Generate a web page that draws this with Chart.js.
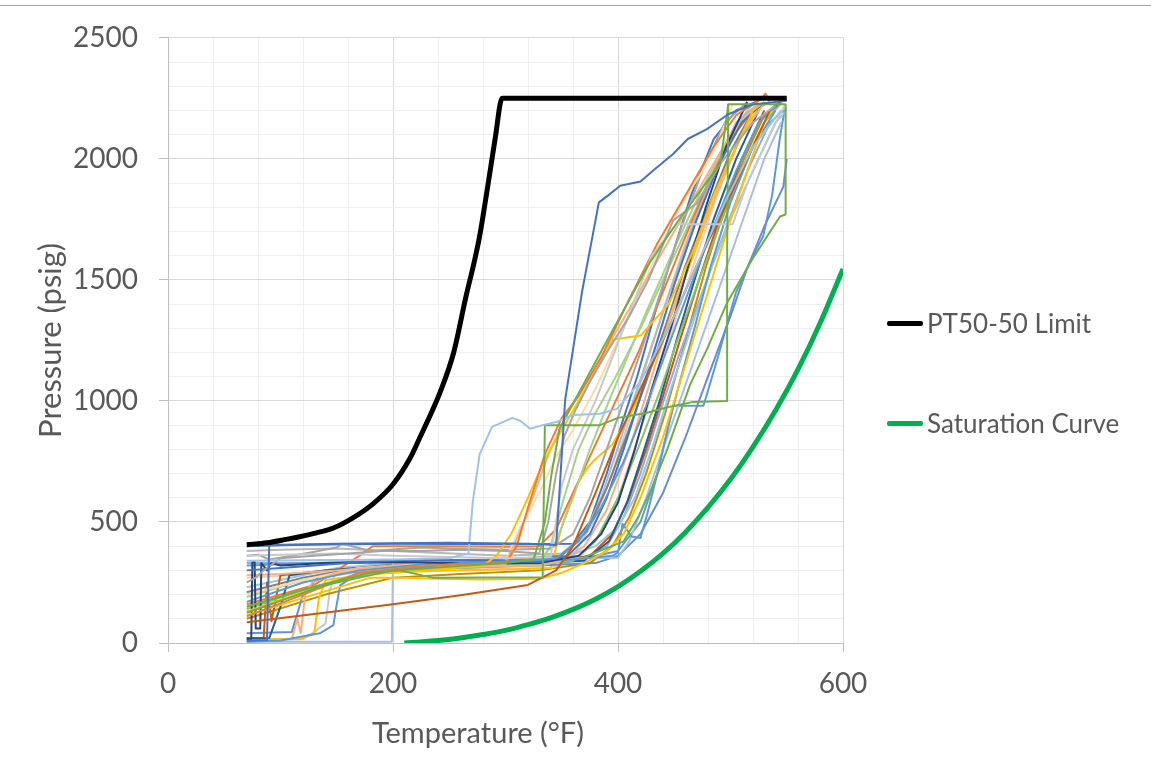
<!DOCTYPE html>
<html>
<head>
<meta charset="utf-8">
<script src="https://cdn.jsdelivr.net/npm/chart.js@4.4.1/dist/chart.umd.min.js"></script>
<style>
  html, body { margin: 0; padding: 0; background: #fff; }
  #wrap { position: relative; width: 1151px; height: 772px; font-family: Lato, "Open Sans", sans-serif; color: #595959; }
  #topRule { position: absolute; left: 0; top: 5px; width: 1151px; height: 1px; background: #a6a6a6; }
  #xTitle { position: absolute; left: 0; top: 715px; width: 956px; text-align: center; font-size: 29px; line-height: 34px; }
  .legendItem { position: absolute; left: 887px; height: 30px; display: flex; align-items: center; font-size: 26px; white-space: nowrap; }
  .legendItem span.swatch { display: inline-block; width: 36px; height: 5px; border-radius: 2px; margin-right: 4px; }
</style>
</head>
<body>
<div id="wrap">
  <div id="topRule"></div>
  <canvas id="ptChart" width="1151" height="772"></canvas>
  <div id="xTitle">Temperature (°F)</div>
  <div class="legendItem" style="top:308px"><span class="swatch" style="background:#000"></span>PT50-50 Limit</div>
  <div class="legendItem" style="top:408px"><span class="swatch" style="background:#00b050"></span>Saturation Curve</div>
</div>
<script>
// axis ticks that carry a label
const xLabelTicks = [0, 200, 400, 600];
const yLabelTicks = [0, 500, 1000, 1500, 2000, 2500];

// [temperature F, pressure psig]
const ptLimit = [[70,406],[88,414],[105,428],[117,439],[132,455],[147,475],[164,516],[182,574],[200,656],[215,762],[224,850],[234,950],[242,1037],[254,1201],[265,1434],[272,1570],[277,1680],[285,1910],[291,2090],[297,2250],[550,2250]];
const saturation = [[210,0],[220,3],[240,10],[260,21],[280,35],[300,52],[320,76],[340,104],[360,139],[380,181],[400,233],[420,296],[440,370],[460,458],[480,560],[500,676],[520,810],[540,960],[560,1130],[580,1325],[600,1545]];

// plant heatup / cooldown records
const run01 = [[70,10],[88,12],[90,405],[150,410],[250,414],[320,410],[345,405],[349,700],[353,1004],[368,1450],[383,1820],[391,1848],[402,1889],[420,1906],[431,1951],[449,2020],[462,2082],[479,2123],[498,2184],[520,2225],[550,2240]];
const run02 = [[70,340],[120,342],[200,345],[250,350],[262,365],[267,369],[271,586],[277,779],[288,893],[306,930],[313,918],[322,885],[333,900],[346,914],[360,942],[384,947],[399,967],[420,1080],[445,1300],[470,1560],[495,1820],[520,2050],[545,2200]];
const run03 = [[70,150],[120,220],[180,290],[206,300],[235,270],[333,272],[335,900],[384,900],[400,930],[425,950],[445,975],[467,996],[497,1000],[497,1600],[498,2225]];
const run04 = [[70,125],[140,240],[200,300],[300,330],[325,345],[335,500],[341,700],[348,885],[388,1230],[428,1570],[452,1734],[475,1880],[491,1980],[498,2225],[549,2225],[549,1770],[544,1762],[520,1590],[497,1406],[479,1213],[464,1066],[444,803],[430,640],[418,520],[405,420],[370,355]];
const run05 = [[70,250],[78,270],[85,300],[100,350],[130,360],[160,370],[190,380],[225,380],[260,385],[300,380],[330,370],[338,500],[345,700],[352,850],[362,960],[375,1080],[390,1200],[410,1350],[427,1500],[449,1746],[470,1816],[491,1980],[520,2150],[540,2220]];
const run06 = [[70,360],[100,365],[150,370],[200,360],[300,350],[340,355],[350,650],[360,800],[380,1000],[405,1300],[430,1600],[452,1730],[502,1730],[515,1900],[535,2100],[548,2220]];
const run07 = [[70,110],[120,200],[170,290],[230,320],[300,330],[310,400],[320,560],[335,780],[350,930],[365,1020],[385,1180],[410,1420],[435,1650],[460,1850],[485,2050],[505,2180],[528,2250],[531,2270],[535,2240]];
const run08 = [[70,86],[130,120],[200,160],[260,197],[320,240],[345,300],[360,400],[380,620],[400,850],[420,1050],[445,1300],[470,1560],[495,1800],[515,2000],[535,2200],[545,2240]];
const run09 = [[70,115],[130,200],[180,270],[210,270],[240,265],[280,262],[330,265],[350,290],[370,330],[390,380],[405,450],[420,600],[440,850],[460,1150],[480,1450],[500,1750],[515,1950],[530,2150],[540,2230]];
const run10 = [[70,130],[120,210],[170,280],[230,300],[280,320],[292,360],[305,450],[320,600],[335,760],[350,880],[370,1040],[396,1254],[420,1270],[445,1400],[465,1600],[485,1850],[505,2050],[520,2200],[530,2235]];
const run11 = [[70,5],[100,10],[135,40],[147,74],[150,160],[153,238],[165,275],[200,300],[260,330],[320,340],[345,350],[365,420],[385,560],[405,750],[425,980],[445,1230],[465,1480],[485,1720],[505,1950],[525,2150],[545,2235]];
const run12 = [[70,300],[100,310],[160,330],[220,345],[280,340],[330,335],[355,360],[375,450],[390,600],[405,800],[420,1020],[435,1250],[450,1480],[470,1750],[490,1980],[510,2150],[530,2235]];
const run13 = [[70,15],[74,15],[75,335],[77,335],[78,60],[82,60],[83,330],[88,300],[92,330],[100,320],[140,330],[200,335],[260,330],[330,330],[365,360],[385,450],[400,580],[415,800],[430,1050],[447,1300],[462,1550],[478,1800],[496,2050],[515,2235]];
const run14 = [[70,170],[120,250],[170,300],[240,330],[320,340],[360,345],[395,360],[400,373],[404,492],[412,440],[420,434],[426,533],[435,700],[445,900],[455,1080],[468,1300],[482,1550],[500,1820],[520,2050],[540,2200]];
const run15 = [[70,5],[199,5],[200,332],[240,335],[300,330],[337,350],[380,350],[400,352],[410,420],[425,600],[440,800],[455,1000],[470,1200],[485,1400],[500,1600],[515,1800],[530,2000],[545,2150]];
const run16 = [[70,280],[100,285],[150,300],[200,320],[260,320],[300,325],[310,430],[318,520],[328,650],[340,800],[355,950],[375,1100],[400,1300],[425,1500],[450,1700],[475,1900],[500,2100],[525,2230]];
const run17 = [[70,10],[110,15],[115,100],[118,40],[122,200],[128,250],[150,290],[200,310],[260,315],[330,320],[350,340],[370,400],[390,550],[410,800],[430,1100],[450,1400],[470,1650],[490,1880],[510,2100],[530,2230]];
const run18 = [[70,200],[120,260],[170,310],[240,330],[300,335],[310,450],[330,620],[345,770],[360,880],[380,1050],[405,1300],[430,1560],[455,1800],[475,1950],[488,2060],[502,2225]];
const run19 = [[70,360],[80,365],[90,345],[110,360],[128,375],[150,395],[155,410],[180,380],[225,395],[250,390],[300,385],[340,390],[360,450],[375,600],[390,800],[405,1000],[420,1200],[438,1450],[455,1700],[475,1950],[495,2150],[515,2235]];
const run20 = [[70,210],[120,270],[170,310],[230,340],[300,345],[350,360],[372,460],[390,640],[408,860],[425,1080],[443,1320],[460,1560],[480,1800],[500,2030],[520,2200],[535,2235]];
const run21 = [[70,190],[120,260],[170,310],[230,325],[290,330],[330,340],[345,420],[360,600],[375,800],[392,1000],[410,1200],[430,1420],[452,1650],[475,1880],[500,2100],[525,2230]];
const run22 = [[70,140],[120,220],[175,290],[250,310],[320,320],[360,340],[380,420],[400,600],[420,830],[438,1050],[455,1280],[472,1500],[490,1720],[510,1960],[530,2150],[545,2230]];
const run23 = [[70,20],[90,20],[100,150],[108,280],[140,300],[200,320],[260,325],[330,330],[370,340],[392,420],[408,580],[422,780],[437,1000],[452,1250],[468,1500],[485,1750],[505,2000],[525,2200]];
const run24 = [[70,160],[130,240],[170,360],[182,400],[240,400],[300,398],[330,400],[345,470],[360,620],[378,800],[398,1000],[418,1200],[440,1450],[460,1680],[480,1900],[500,2080],[520,2200]];
const run25 = [[70,20],[85,20],[88,250],[92,90],[100,280],[140,300],[200,320],[270,330],[340,335],[375,360],[395,450],[410,600],[425,800],[440,1020],[455,1250],[472,1500],[490,1750],[510,2000],[530,2200]];
const run26 = [[70,230],[100,260],[150,310],[200,330],[260,335],[320,340],[350,350],[380,400],[400,480],[415,600],[430,800],[447,1050],[465,1300],[483,1550],[500,1750],[520,1950],[540,2150],[550,2200]];
const run27 = [[70,40],[110,45],[120,200],[135,280],[180,300],[250,310],[330,320],[380,330],[400,360],[420,450],[440,620],[460,850],[480,1100],[500,1350],[515,1550],[530,1720],[547,1885],[550,2000]];
const run28 = [[70,320],[130,330],[200,340],[300,345],[370,350],[400,380],[420,500],[435,700],[449,980],[476,980],[490,1200],[505,1450],[520,1600],[529,1680],[537,1850],[544,2090],[548,2200]];
const run29 = [[70,15],[120,18],[130,40],[134,180],[140,260],[190,290],[250,300],[310,305],[340,310],[350,480],[362,640],[372,720],[380,760],[395,820],[415,980],[435,1200],[455,1450],[475,1700],[495,1950],[515,2150],[530,2230]];
const run30 = [[70,380],[100,385],[150,390],[200,380],[300,360],[350,370],[370,450],[385,600],[398,780],[412,980],[428,1200],[446,1450],[465,1700],[485,1950],[505,2150],[525,2230]];
const run31 = [[70,150],[130,230],[190,300],[250,320],[330,330],[340,400],[352,600],[365,800],[380,950],[398,1100],[420,1300],[445,1550],[470,1800],[495,2050],[515,2200]];
const run32 = [[70,270],[110,280],[160,300],[220,310],[280,305],[340,310],[365,350],[385,450],[400,600],[418,850],[435,1100],[452,1350],[470,1600],[488,1850],[508,2080],[528,2230]];
const run33 = [[70,330],[150,330],[250,330],[330,335],[370,345],[390,400],[405,520],[420,700],[437,950],[455,1200],[475,1450],[495,1700],[515,1950],[535,2150],[550,2210]];
const run34 = [[70,100],[140,200],[200,270],[260,285],[330,300],[375,330],[395,400],[410,520],[425,700],[442,950],[460,1250],[478,1550],[495,1800],[512,2000],[530,2180],[545,2235]];
const run35 = [[70,15],[117,15],[128,40],[140,80],[144,220],[148,280],[200,310],[280,320],[340,330],[360,360],[378,500],[395,700],[410,920],[425,1150],[442,1400],[460,1650],[480,1900],[500,2100],[520,2230]];
const run36 = [[70,400],[110,405],[200,410],[300,408],[360,410],[375,500],[390,700],[403,900],[417,1100],[432,1350],[448,1600],[465,1850],[485,2080],[505,2200],[525,2240]];

const runs = [run01, run02, run03, run04, run05, run06, run07, run08, run09, run10, run11, run12,
              run13, run14, run15, run16, run17, run18, run19, run20, run21, run22, run23, run24,
              run25, run26, run27, run28, run29, run30, run31, run32, run33, run34, run35, run36];
const runColors = ['#4472c4', '#9dc3e6', '#70ad47', '#70ad47', '#a5a5a5', '#c9c9c9', '#ed7d31', '#c55a11', '#ffc000', '#ffc000', '#5b9bd5', '#4472c4',
                   '#264478', '#5b9bd5', '#a9bee4', '#f4b183', '#f4b183', '#ffd9a6', '#a5a5a5', '#7f7f7f', '#a9d18e', '#8cc168', '#255e91', '#ed7d31',
                   '#c55a11', '#9dc3e6', '#698ed0', '#5b9bd5', '#ffc000', '#b7b7b7', '#a9d18e', '#f8cbad', '#8faadc', '#bf9000', '#c9c9c9', '#4472c4'];

function toXY(pairs) {
    return pairs.map(p => ({ x: p[0], y: p[1] }));
}

const datasets = [
    { label: 'PT50-50 Limit', data: toXY(ptLimit), borderColor: '#000000', borderWidth: 5, cubicInterpolationMode: 'monotone' },
    { label: 'Saturation Curve', data: toXY(saturation), borderColor: '#00b050', borderWidth: 5, cubicInterpolationMode: 'monotone' }
];
runs.forEach((r, i) => {
    datasets.push({ label: 'Run ' + (i + 1), data: toXY(r), borderColor: runColors[i], borderWidth: 2 });
});
datasets.forEach(d => {
    d.showLine = true;
    d.pointRadius = 0;
    d.pointHoverRadius = 0;
    d.fill = false;
    d.borderJoinStyle = 'round';
});

const tickFont = { family: 'Lato, "Open Sans", sans-serif', size: 28 };

new Chart(document.getElementById('ptChart').getContext('2d'), {
    type: 'scatter',
    data: { datasets: datasets },
    options: {
        responsive: false,
        animation: false,
        layout: { padding: { left: 0, right: 308, top: 33, bottom: 0 } },
        plugins: { legend: { display: false }, tooltip: { enabled: false } },
        scales: {
            x: {
                type: 'linear',
                min: 0, max: 600,
                afterFit: s => { s.height = 129; },
                border: { color: '#bfbfbf', width: 1 },
                grid: {
                    color: c => xLabelTicks.includes(c.tick.value) ? '#d9d9d9' : '#f0f0f0',
                    tickColor: c => xLabelTicks.includes(c.tick.value) ? '#bfbfbf' : 'rgba(0,0,0,0)',
                    tickLength: 9,
                    lineWidth: 1
                },
                ticks: {
                    stepSize: 40,
                    autoSkip: false,
                    maxRotation: 0,
                    padding: 15,
                    color: '#595959',
                    font: tickFont,
                    callback: v => xLabelTicks.includes(v) ? String(v) : ''
                }
            },
            y: {
                type: 'linear',
                min: 0, max: 2500,
                afterFit: s => { s.width = 168; },
                border: { color: '#bfbfbf', width: 1 },
                grid: {
                    color: c => yLabelTicks.includes(c.tick.value) ? '#d9d9d9' : '#f0f0f0',
                    tickColor: c => yLabelTicks.includes(c.tick.value) ? '#bfbfbf' : 'rgba(0,0,0,0)',
                    tickLength: 9,
                    lineWidth: 1
                },
                ticks: {
                    stepSize: 100,
                    autoSkip: false,
                    padding: 21,
                    color: '#595959',
                    font: tickFont,
                    callback: v => yLabelTicks.includes(v) ? String(v) : ''
                },
                title: {
                    display: true,
                    text: 'Pressure (psig)',
                    color: '#595959',
                    font: { family: 'Lato, "Open Sans", sans-serif', size: 31 },
                    padding: { top: 32, bottom: 0 }
                }
            }
        }
    }
});
</script>
</body>
</html>
